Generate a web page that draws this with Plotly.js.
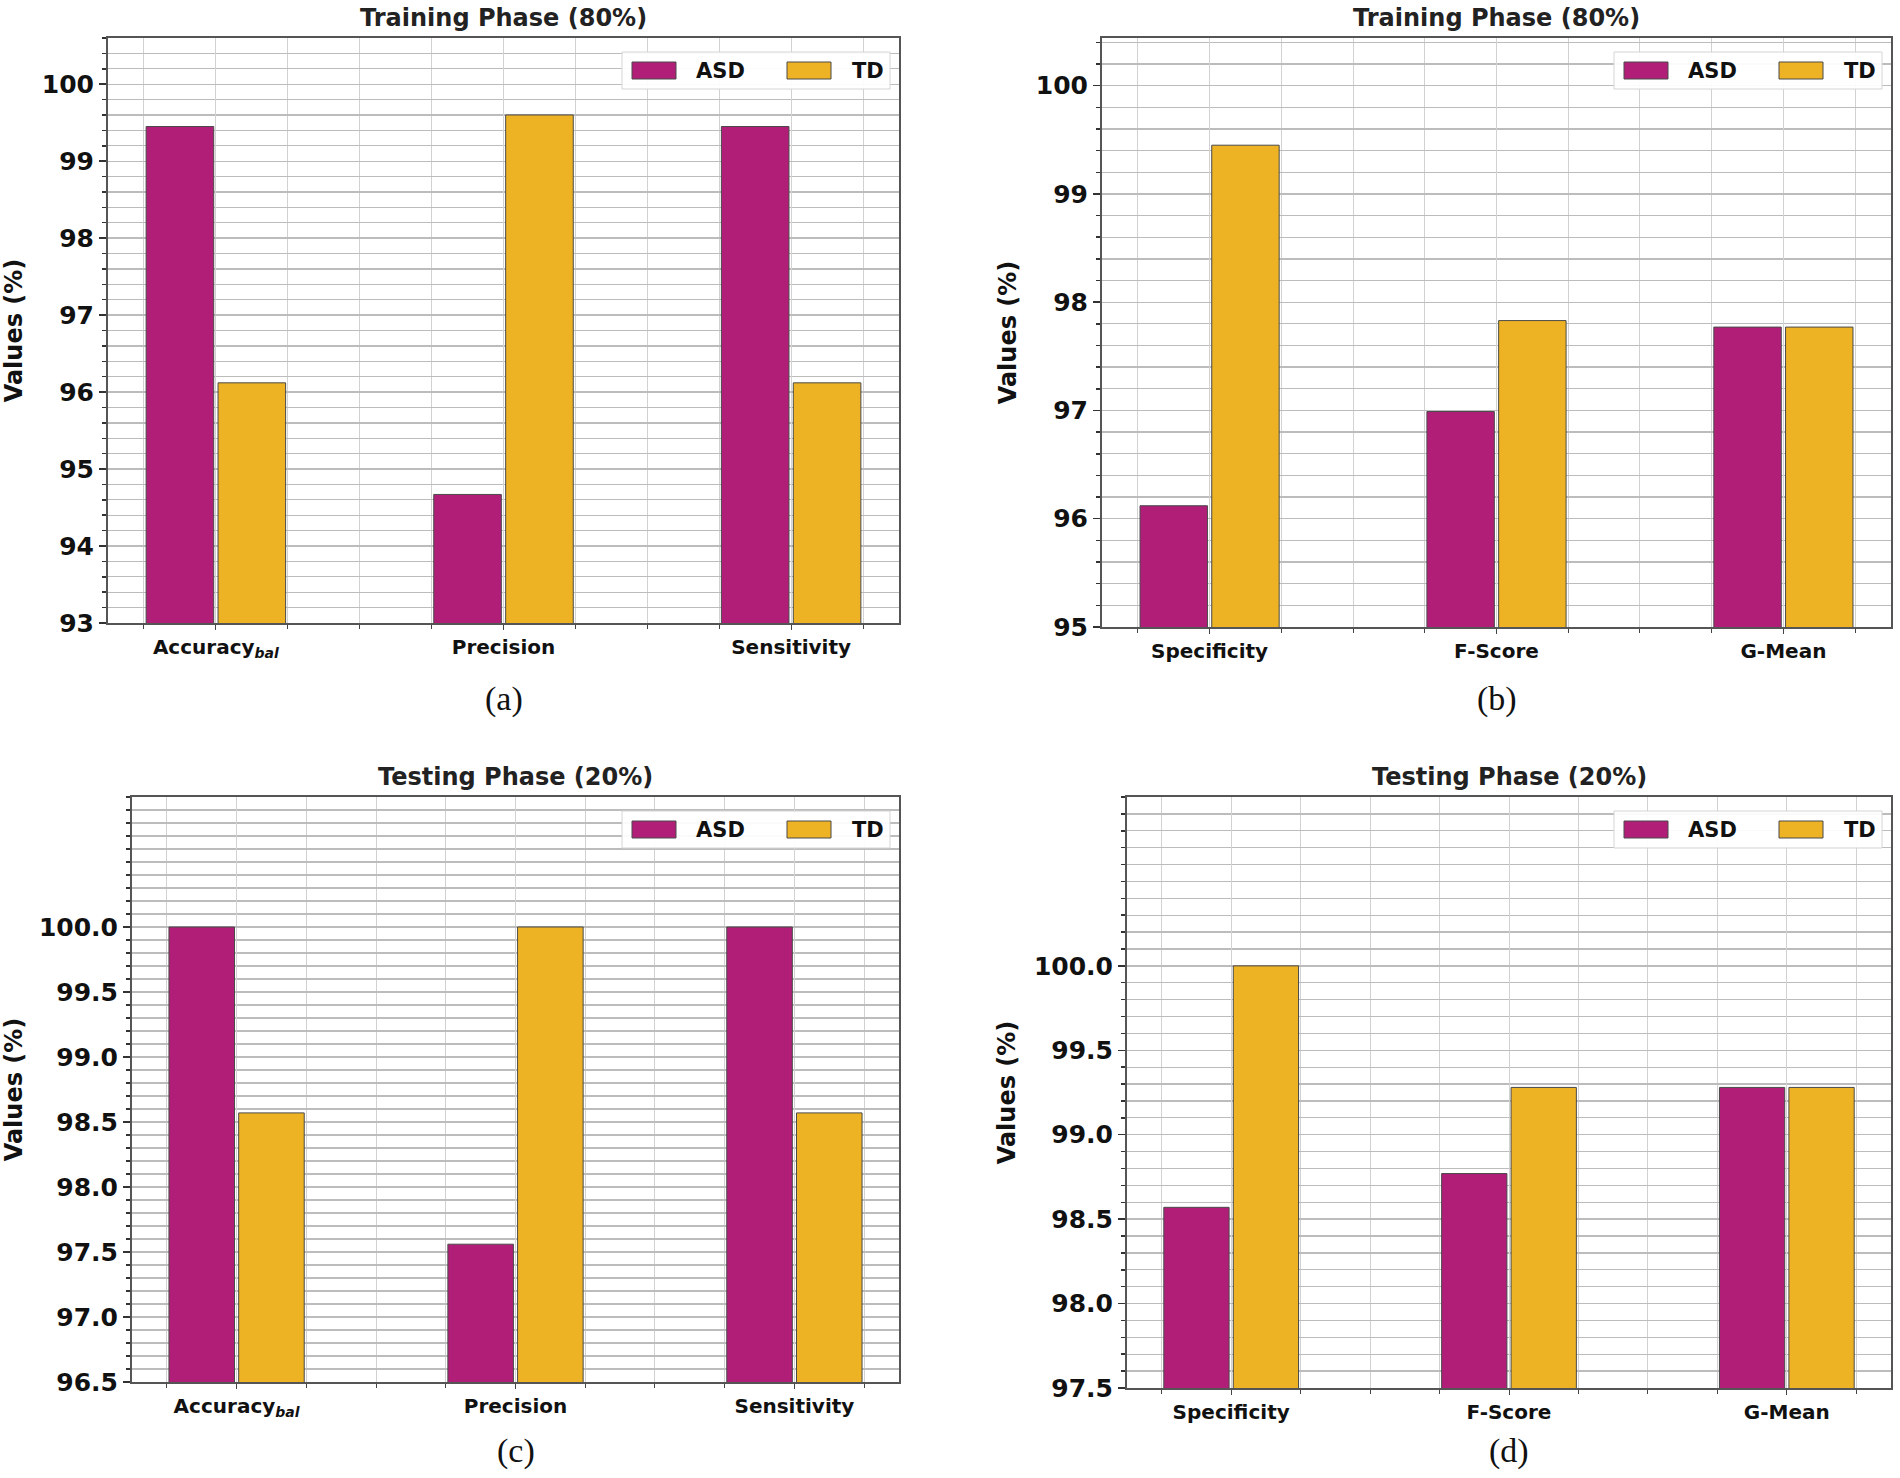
<!DOCTYPE html>
<html>
<head>
<meta charset="utf-8">
<script src="https://cdn.plot.ly/plotly-3.0.1.min.js"></script>
<style>html,body{margin:0;padding:0;background:#fff;}#chart{width:1900px;height:1478px;}</style>
</head>
<body>
<div id="chart"></div>
<script>
// ---- data ----
const seriesNames = ['ASD', 'TD'];
const catsA = ['Accuracy<sub><i>bal</i></sub>', 'Precision', 'Sensitivity'];
const catsB = ['Specificity', 'F-Score', 'G-Mean'];

const trainA_ASD = [99.45, 94.67, 99.45];
const trainA_TD  = [96.12, 99.60, 96.12];
const trainB_ASD = [96.12, 96.99, 97.77];
const trainB_TD  = [99.45, 97.83, 97.77];

const testA_ASD = [100.0, 97.56, 100.0];
const testA_TD  = [98.57, 100.0, 98.57];
const testB_ASD = [98.57, 98.77, 99.28];
const testB_TD  = [100.0, 99.28, 99.28];

const ticksTrainA = [93, 94, 95, 96, 97, 98, 99, 100];
const ticksTrainB = [95, 96, 97, 98, 99, 100];
const ticksTestA  = [96.5, 97.0, 97.5, 98.0, 98.5, 99.0, 99.5, 100.0];
const ticksTestB  = [97.5, 98.0, 98.5, 99.0, 99.5, 100.0];

const titleTrain = 'Training Phase (80%)';
const titleTest  = 'Testing Phase (20%)';
const captions = ['(a)', '(b)', '(c)', '(d)'];

// ---- style ----
const W = 1900, H = 1478;
const seriesColors = ['#B01E78', '#EEB324'];
const edgeColor = '#4a4a4a';
const FONT = 'DejaVu Sans, Arial, sans-serif';

function px2x(p){ return p / W; }
function px2y(p){ return 1 - p / H; }

const panels = [
  {box:[108, 899, 38, 623],  capY:699,  title:titleTrain, cats:catsA, series:[trainA_ASD, trainA_TD], yr:[93, 100.6],  ticks:ticksTrainA, fmt:'d',   minor:0.2, mt0:93},
  {box:[1102, 1891, 38, 627], capY:699, title:titleTrain, cats:catsB, series:[trainB_ASD, trainB_TD], yr:[95, 100.44], ticks:ticksTrainB, fmt:'d',   minor:0.2, mt0:95},
  {box:[132, 899, 797, 1382], capY:1451, title:titleTest,  cats:catsA, series:[testA_ASD, testA_TD],  yr:[96.5, 101.0], ticks:ticksTestA, fmt:'.1f', minor:0.1, mt0:96.5},
  {box:[1127, 1891, 797, 1388], capY:1451, title:titleTest, cats:catsB, series:[testB_ASD, testB_TD], yr:[97.5, 101.0], ticks:ticksTestB, fmt:'.1f', minor:0.1, mt0:97.5}
];

const data = [];
const layout = {
  width: W, height: H,
  margin: {l:0, r:0, t:0, b:0},
  paper_bgcolor: '#fff', plot_bgcolor: '#fff',
  barmode: 'group', bargap: 0.5, bargroupgap: 0.06,
  font: {family: FONT, color: '#111'},
  annotations: [], shapes: [],
  showlegend: false
};

panels.forEach((p, i) => {
  const n = i + 1;
  const xa = n === 1 ? 'x' : 'x' + n;
  const ya = n === 1 ? 'y' : 'y' + n;
  const xpos = p.cats.map((_, k) => k);
  p.series.forEach((vals, s) => {
    data.push({type:'bar', name:seriesNames[s], x:xpos, y:vals, xaxis:xa, yaxis:ya,
      marker:{color:seriesColors[s], line:{color:edgeColor, width:1}}, hoverinfo:'y'});
  });

  const [x0, x1, y0, y1] = p.box;
  layout['xaxis' + (n === 1 ? '' : n)] = {
    domain: [px2x(x0), px2x(x1)], anchor: ya,
    type: 'linear', range: [-0.375, p.cats.length - 1 + 0.375],
    tickmode: 'array', tickvals: xpos, ticktext: p.cats,
    ticks: 'outside', ticklen: 5, tickcolor: '#444',
    tickfont: {family: FONT, size: 20, weight: 700, color: '#111'},
    showgrid: true, gridcolor: '#d2d2d2', gridwidth: 1,
    minor: {tickmode: 'linear', tick0: 0, dtick: 0.25, ticks: 'outside', ticklen: 4, tickcolor: '#444',
            showgrid: true, gridcolor: '#d2d2d2', gridwidth: 1},
    showline: true, linecolor: '#555', linewidth: 2, mirror: true,
    zeroline: false, fixedrange: true
  };
  layout['yaxis' + (n === 1 ? '' : n)] = {
    domain: [px2y(y1), px2y(y0)], anchor: xa,
    range: p.yr, tickmode: 'array', tickvals: p.ticks, tickformat: p.fmt,
    ticks: 'outside', ticklen: 7, tickwidth: 1.5, tickcolor: '#333',
    tickfont: {family: FONT, size: 25, weight: 700, color: '#111'},
    showgrid: true, gridcolor: '#bcbcbc', gridwidth: 1.3,
    minor: {tickmode: 'linear', tick0: p.mt0, dtick: p.minor, ticks: 'outside', ticklen: 4, tickcolor: '#333',
            showgrid: true, gridcolor: '#bcbcbc', gridwidth: 1.3},
    showline: true, linecolor: '#555', linewidth: 2, mirror: true,
    zeroline: false, fixedrange: true,
    title: {text: 'Values (%)', font: {family: FONT, size: 24, weight: 700, color: '#111'}, standoff: 12}
  };

  // legend (drawn as box + swatches + labels)
  layout.shapes.push({type:'rect', xref:'paper', yref:'paper',
    x0: px2x(x1 - 277), x1: px2x(x1 - 9), y0: px2y(y0 + 51), y1: px2y(y0 + 14),
    fillcolor: 'rgba(255,255,255,0.92)', line: {color: '#d4d4d4', width: 1}, layer: 'above'});
  const swX = [x1 - 267, x1 - 112];
  const txX = [x1 - 205, x1 - 49];
  seriesNames.forEach((nm, s) => {
    layout.shapes.push({type:'rect', xref:'paper', yref:'paper',
      x0: px2x(swX[s]), x1: px2x(swX[s] + 44), y0: px2y(y0 + 41), y1: px2y(y0 + 24),
      fillcolor: seriesColors[s], line: {color: edgeColor, width: 1}, layer: 'above'});
    layout.annotations.push({xref:'paper', yref:'paper', x: px2x(txX[s]), y: px2y(y0 + 33),
      xanchor: 'left', yanchor: 'middle', showarrow: false,
      text: '<b>' + nm + '</b>', font: {family: FONT, size: 21, color: '#111'}});
  });

  layout.annotations.push({
    xref: 'paper', yref: 'paper', x: px2x((x0 + x1) / 2), y: px2y(y0 - 20),
    xanchor: 'center', yanchor: 'middle', showarrow: false,
    text: '<b>' + p.title + '</b>', font: {family: FONT, size: 24, color: '#222'}
  });
  layout.annotations.push({
    xref: 'paper', yref: 'paper', x: px2x((x0 + x1) / 2), y: px2y(p.capY),
    xanchor: 'center', yanchor: 'middle', showarrow: false,
    text: captions[i], font: {family: 'Liberation Serif, Times New Roman, serif', size: 34, color: '#111'}
  });
});

Plotly.newPlot('chart', data, layout, {displayModeBar: false, staticPlot: true});
</script>
</body>
</html>
